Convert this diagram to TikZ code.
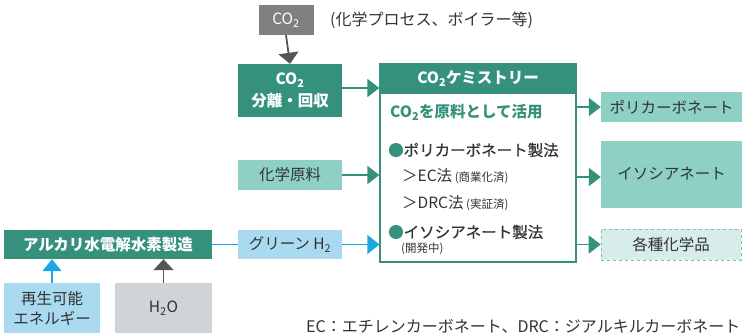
\documentclass[tikz,border=0pt]{standalone}
\usepackage{fontspec}
\setmainfont{Noto Sans CJK JP}
\newfontfamily\medfont[FakeBold=0.5]{Noto Sans CJK JP}
\usetikzlibrary{arrows.meta}
\definecolor{dg}{HTML}{35917C}
\definecolor{lt}{HTML}{8ED1C4}
\definecolor{lb}{HTML}{A9DAF0}
\definecolor{bl}{HTML}{1AA7E4}
\definecolor{gr}{HTML}{808080}
\definecolor{lg}{HTML}{D0D4D6}
\definecolor{pale}{HTML}{D6EDE9}
\definecolor{tx}{HTML}{333333}
\definecolor{ag}{HTML}{555555}
\newcommand\subtwo{\textsubscript{2}}
\tikzset{
  box/.style={rectangle, inner sep=0pt, align=center, text=tx, font=\fontsize{15.5}{19}\selectfont},
  dbox/.style={box, fill=dg, text=white, font=\fontsize{15.5}{22}\selectfont\bfseries},
  txt/.style={inner sep=0pt, anchor=west, text=tx, font=\fontsize{15.5}{19}\selectfont},
  small/.style={font=\fontsize{11.5}{13}\selectfont},
  garrow/.style={draw=dg, line width=1.8pt, -{Triangle[length=12pt,width=18pt]}},
  barrow/.style={draw=bl, line width=1.8pt, -{Triangle[length=12pt,width=19pt]}},
  karrow/.style={draw=ag, line width=1.8pt, -{Triangle[length=11pt,width=20pt]}},
}
\begin{document}
\begin{tikzpicture}[x=1pt,y=1pt]
\useasboundingbox (0,0) rectangle (743,-333);

% top CO2
\node[box, fill=gr, text=white, minimum width=55, minimum height=30] (co2top) at (286,-20) {CO\subtwo};
\node[txt, font=\fontsize{16}{19}\selectfont] (note) at (330,-20) {(化学プロセス、ボイラー等)};

% CO2 separation
\node[dbox, minimum width=104, minimum height=53] (sep) at (290,-90.5) {CO\subtwo\\分離・回収};

% chemistry box
\node[rectangle, draw=dg, line width=1.3pt, minimum width=196, minimum height=198, inner sep=0pt] (chem) at (478,-163) {};
\node[dbox, minimum width=196, minimum height=30] (chemh) at (478,-79) {CO\subtwo ケミストリー};
\node[txt, text=dg, font=\fontsize{15.5}{19}\selectfont\bfseries] (use) at (390,-112) {CO\subtwo を原料として活用};
\node[txt, font=\fontsize{15.5}{19}\medfont] (b1) at (388,-150) {\textcolor{dg}{●}ポリカーボネート製法};
\node[txt] (ec) at (402,-176) {＞EC法\,{\fontsize{11.5}{13}\selectfont (商業化済)}};
\node[txt] (drc) at (402,-203) {＞DRC法\,{\fontsize{11.5}{13}\selectfont (実証済)}};
\node[txt, font=\fontsize{15.5}{19}\medfont] (b2) at (388,-232) {\textcolor{dg}{●}イソシアネート製法};
\node[txt, small] (dev) at (401,-249) {(開発中)};

% inputs
\node[box, fill=lt, minimum width=104, minimum height=30] (raw) at (290,-175) {化学原料};
\node[box, fill=lb, minimum width=104, minimum height=29] (h2) at (290,-244.5) {グリーン H\subtwo};
\node[dbox, minimum width=208, minimum height=29] (alk) at (108,-244.5) {アルカリ水電解水素製造};
\node[box, fill=lb, minimum width=96, minimum height=50, font=\fontsize{15.5}{20}\selectfont] (ren) at (52,-308) {再生可能\\エネルギー};
\node[box, fill=lg, minimum width=97, minimum height=50] (h2o) at (163.5,-308) {H\subtwo O};

% outputs
\node[box, fill=lt, minimum width=141, minimum height=30] (pc) at (671.5,-107) {ポリカーボネート};
\node[box, fill=lt, minimum width=141, minimum height=67] (iso) at (671.5,-174) {イソシアネート};
\node[box, fill=pale, draw=dg!60, dashed, line width=0.6pt, minimum width=140, minimum height=31] (chemi) at (671,-244.5) {各種化学品};

% footnote
\node[txt, font=\fontsize{16}{19}\selectfont] (fn) at (306,-326) {EC：エチレンカーボネート、DRC：ジアルキルカーボネート};

% connectors
\draw[karrow] (co2top.south) -- (sep.north);
\draw[garrow] (sep.east |- 0,-88) -- (chem.west |- 0,-88);
\draw[garrow] (raw.east) -- (chem.west |- raw.east);
\draw[barrow] (h2.east) -- (chem.west |- h2.east);
\draw[draw=bl, line width=1.5pt] (alk.east) -- (h2.west);
\draw[barrow] (ren.north) -- (ren.north |- alk.south);
\draw[karrow] (h2o.north) -- (h2o.north |- alk.south);
\draw[garrow] (chem.east |- pc.west) -- (pc.west);
\draw[garrow] (chem.east |- 0,-177) -- (iso.west |- 0,-177);
\draw[garrow] (chem.east |- chemi.west) -- (chemi.west);
\end{tikzpicture}
\end{document}
